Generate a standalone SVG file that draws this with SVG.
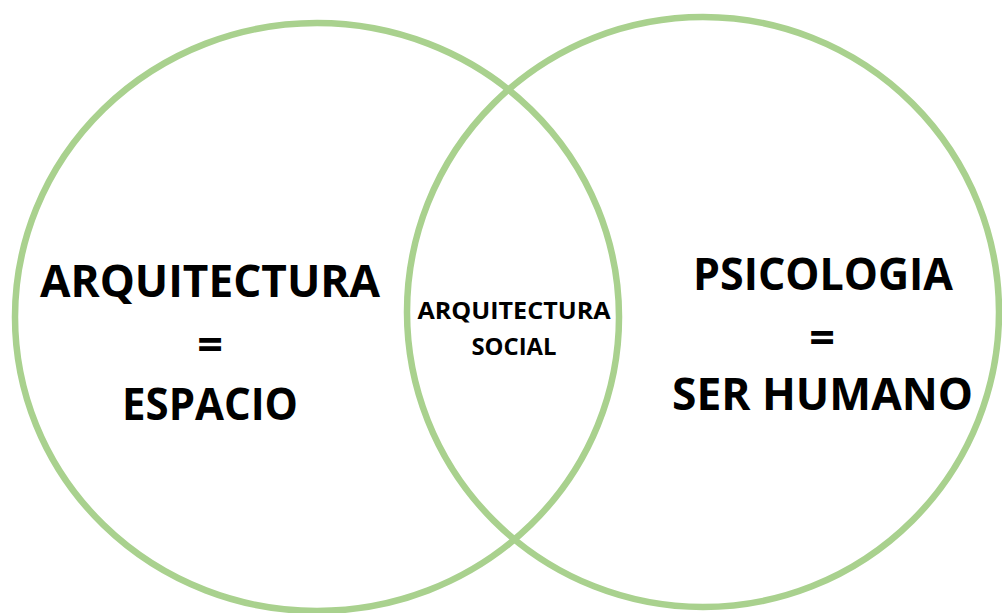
<svg xmlns="http://www.w3.org/2000/svg" width="1002" height="613" viewBox="0 0 1002 613">
  <style>
    .ring { fill: none; stroke: #A9D18E; stroke-width: 6.5; }
    .big { font-family: "Open Sans", "Liberation Sans", sans-serif; font-weight: 700; font-size: 45px; fill: #000; text-anchor: middle; }
    .small { font-family: "Open Sans", "Liberation Sans", sans-serif; font-weight: 700; font-size: 24px; fill: #000; text-anchor: middle; }
  </style>
  <rect width="1002" height="613" fill="#ffffff"/>
  <g id="arquitectura">
    <ellipse class="ring" cx="317" cy="317" rx="302" ry="294"/>
    <text class="big" x="210" y="297" textLength="340" lengthAdjust="spacingAndGlyphs">ARQUITECTURA</text>
    <text class="big" x="210" y="360">=</text>
    <text class="big" x="210" y="420" textLength="176" lengthAdjust="spacingAndGlyphs">ESPACIO</text>
  </g>
  <g id="psicologia">
    <ellipse class="ring" cx="703" cy="312" rx="296" ry="295"/>
    <text class="big" x="823" y="290" textLength="260" lengthAdjust="spacingAndGlyphs">PSICOLOGIA</text>
    <text class="big" x="822" y="353">=</text>
    <text class="big" x="822.5" y="410" textLength="301" lengthAdjust="spacingAndGlyphs">SER HUMANO</text>
  </g>
  <g id="arquitectura-social">
    <text class="small" x="514" y="319" textLength="193" lengthAdjust="spacingAndGlyphs">ARQUITECTURA</text>
    <text class="small" x="514" y="355" textLength="85" lengthAdjust="spacingAndGlyphs">SOCIAL</text>
  </g>
</svg>
